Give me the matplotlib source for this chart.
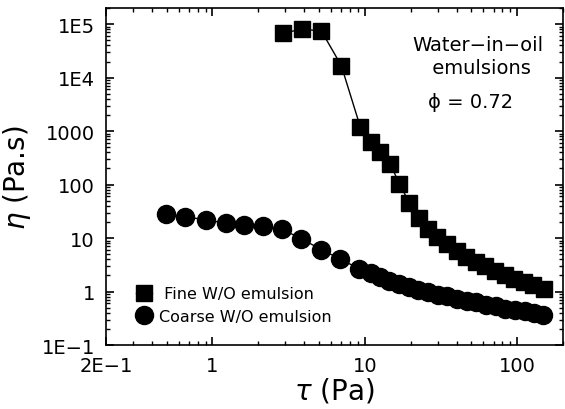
import numpy as np
import matplotlib
matplotlib.use("Agg")
import matplotlib.pyplot as plt
from matplotlib.ticker import FixedLocator, FixedFormatter, LogLocator, NullFormatter

# fine W/O emulsion (squares)
fine_tau = [2.92, 3.89, 5.19, 7.01, 9.34, 10.9, 12.6, 14.7, 16.8, 19.6, 22.8, 26.1,
            29.9, 34.7, 40.4, 46.3, 53.9, 61.7, 71.7, 83.4, 95.5, 111, 127, 150]
fine_eta = [68000, 80700, 74200, 16700, 1190, 625, 408, 245, 104, 46, 23.5, 14.7,
            10.4, 7.7, 5.7, 4.4, 3.6, 3.03, 2.45, 2.07, 1.74, 1.53, 1.35, 1.14]

# coarse W/O emulsion (circles)
coarse_tau = [0.492, 0.665, 0.90, 1.22, 1.62, 2.16, 2.88, 3.83, 5.19, 6.91,
              9.2, 10.9, 12.6, 14.4, 16.8, 19.6, 22.4, 26.1, 30.3, 34.7, 40.4,
              46.9, 53.9, 62.5, 72.5, 83.4, 97.0, 112, 128, 148]
coarse_eta = [28.2, 25.2, 21.8, 19.2, 17.2, 16.5, 14.5, 9.7, 6.07, 4.03,
              2.66, 2.2, 1.90, 1.60, 1.41, 1.24, 1.09, 0.98, 0.88, 0.81, 0.74,
              0.68, 0.63, 0.57, 0.53, 0.48, 0.45, 0.43, 0.39, 0.36]

xticks = [0.2, 1, 10, 100]
xticklabels = ["2E\u22121", "1", "10", "100"]
yticks = [0.1, 1, 10, 100, 1000, 1e4, 1e5]
yticklabels = ["1E\u22121", "1", "10", "100", "1000", "1E4", "1E5"]

fig = plt.figure(figsize=(5.65, 4.10), dpi=100)
ax = fig.add_axes([0.1876, 0.156, 0.809, 0.822])

ax.plot(fine_tau, fine_eta, color="black", lw=1, marker="s", ms=12,
        mfc="black", mec="black", label=" Fine W/O emulsion")
ax.plot(coarse_tau, coarse_eta, color="black", lw=1, marker="o", ms=13,
        mfc="black", mec="black", label="Coarse W/O emulsion")

ax.set_xscale("log")
ax.set_yscale("log")
ax.set_xlim(0.2, 200)
ax.set_ylim(0.1, 2e5)

ax.xaxis.set_major_locator(FixedLocator(xticks))
ax.xaxis.set_major_formatter(FixedFormatter(xticklabels))
ax.xaxis.set_minor_locator(LogLocator(base=10, subs=np.arange(2, 10)))
ax.xaxis.set_minor_formatter(NullFormatter())
ax.yaxis.set_major_locator(FixedLocator(yticks))
ax.yaxis.set_major_formatter(FixedFormatter(yticklabels))
ax.yaxis.set_minor_locator(LogLocator(base=10, subs=np.arange(2, 10)))
ax.yaxis.set_minor_formatter(NullFormatter())

ax.tick_params(which="both", direction="in", top=True, right=True)
ax.tick_params(which="major", length=6, width=1.2, labelsize=14, pad=8)
ax.tick_params(which="minor", length=3, width=1)
for s in ax.spines.values():
    s.set_linewidth(1.2)

ax.set_xlabel(r"$\tau$ (Pa)", fontsize=20, labelpad=0)
ax.set_ylabel(r"$\eta$ (Pa.s)", fontsize=20, labelpad=6)

ax.text(0.814, 0.858, "Water\u2212in\u2212oil\n emulsions", transform=ax.transAxes,
        ha="center", va="center", fontsize=14, linespacing=1.25)
ax.text(0.797, 0.724, "\u03d5 = 0.72", transform=ax.transAxes,
        ha="center", va="center", fontsize=14)

ax.legend(loc="lower left", frameon=False, fontsize=11.5, handletextpad=0.4,
          handlelength=1.0, borderaxespad=0.2, labelspacing=0.45,
          bbox_to_anchor=(0.045, 0.035))

fig.savefig("out.png", dpi=100)
